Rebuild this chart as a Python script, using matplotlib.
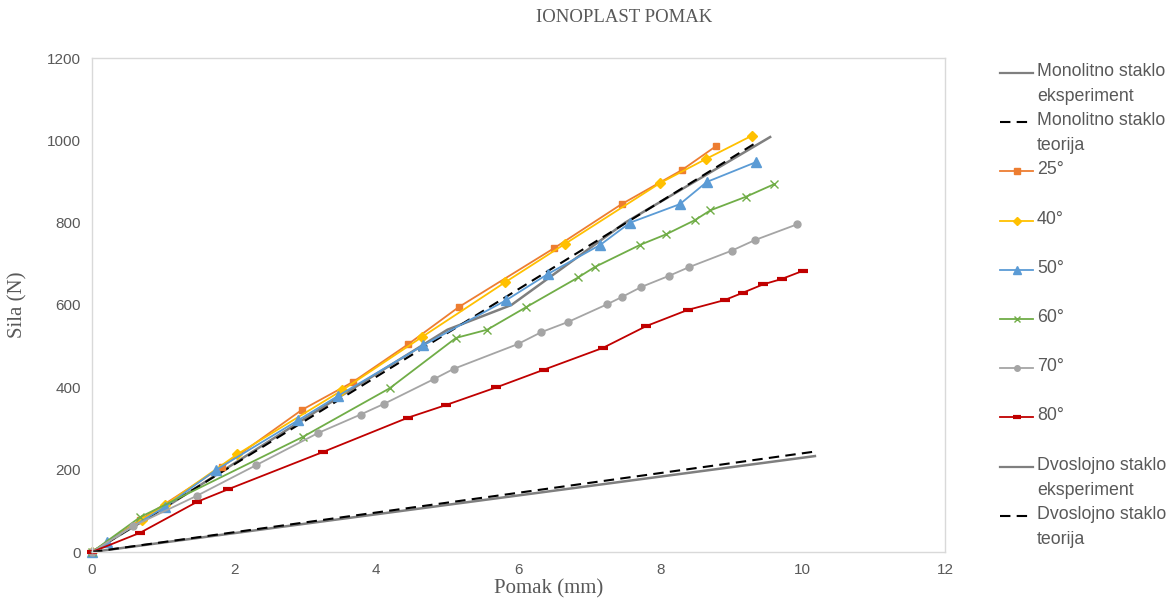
import matplotlib
matplotlib.use('Agg')
import matplotlib.pyplot as plt
from matplotlib.lines import Line2D

# podaci ocitani s grafa
mono_eks_x = [0, 1.0, 3.0, 5.0, 5.9, 7.5, 9.54]
mono_eks_y = [0, 105, 325, 540, 600, 800, 1008]
mono_teo_x = [0, 9.35]
mono_teo_y = [0, 995]

x25 = [0, 0.68, 1.83, 2.95, 3.67, 4.45, 5.16, 6.5, 7.45, 8.3, 8.78]
y25 = [0, 78, 207, 345, 413, 505, 595, 738, 845, 928, 986]

x40 = [0, 0.7, 1.03, 2.04, 3.52, 4.64, 5.81, 6.65, 7.99, 8.64, 9.28]
y40 = [0, 78, 114, 237, 393, 522, 655, 748, 896, 955, 1011]

x50 = [0, 0.21, 1.03, 1.75, 2.9, 3.46, 4.66, 5.83, 6.41, 7.15, 7.57, 8.27, 8.65, 9.34]
y50 = [0, 24, 110, 200, 320, 379, 502, 612, 675, 746, 800, 845, 899, 947]

x60 = [0, 0.68, 2.97, 4.19, 5.12, 5.56, 6.1, 6.84, 7.07, 7.71, 8.08, 8.48, 8.7, 9.2, 9.59]
y60 = [0, 85, 280, 398, 520, 540, 594, 667, 692, 746, 772, 806, 830, 863, 893]

x70 = [0, 0.58, 1.48, 2.31, 3.18, 3.78, 4.11, 4.81, 5.09, 5.99, 6.32, 6.7, 7.25,
       7.45, 7.73, 8.12, 8.4, 9.0, 9.33, 9.92]
y70 = [0, 63, 137, 211, 289, 334, 360, 420, 445, 505, 534, 559, 602,
       619, 644, 671, 692, 732, 758, 796]

x80 = [0, 0.68, 1.48, 1.91, 3.25, 4.44, 4.98, 5.69, 6.36, 7.19, 7.8, 8.38, 8.9,
       9.16, 9.44, 9.7, 10.0]
y80 = [0, 47, 122, 152, 243, 326, 357, 400, 443, 496, 549, 588, 612,
       630, 650, 663, 683]

dvo_eks_x = [0, 10.17]
dvo_eks_y = [0, 233]
dvo_teo_x = [0, 10.13]
dvo_teo_y = [0, 243]

W, H = 1174, 605
fig = plt.figure(figsize=(W / 100, H / 100), dpi=100)
ax = fig.add_axes([92 / W, (H - 552) / H, (945 - 92) / W, (552 - 58) / H])

siva_txt = '#595959'
serif = 'Liberation Serif'
sans = 'Liberation Sans'

serije = [
    ('Monolitno staklo\neksperiment', mono_eks_x, mono_eks_y,
     dict(color='#7F7F7F', lw=1.8, ls='-')),
    ('Monolitno staklo\nteorija', mono_teo_x, mono_teo_y,
     dict(color='black', lw=1.5, ls=(0, (5, 3)))),
    ('25°', x25, y25, dict(color='#ED7D31', lw=1.3, marker='s', ms=5)),
    ('40°', x40, y40, dict(color='#FFC000', lw=1.3, marker='D', ms=5)),
    ('50°', x50, y50, dict(color='#5B9BD5', lw=1.3, marker='^', ms=7)),
    ('60°', x60, y60, dict(color='#70AD47', lw=1.3, marker='x', ms=6, mew=1.0)),
    ('70°', x70, y70, dict(color='#A5A5A5', lw=1.3, marker='o', ms=5)),
    ('80°', x80, y80, dict(color='#C00000', lw=1.3, marker='_', ms=7, mew=3)),
    ('Dvoslojno staklo\neksperiment', dvo_eks_x, dvo_eks_y,
     dict(color='#7F7F7F', lw=1.8, ls='-')),
    ('Dvoslojno staklo\nteorija', dvo_teo_x, dvo_teo_y,
     dict(color='black', lw=1.5, ls=(0, (5, 3)))),
]

for lab, xs, ys, st in serije:
    ax.plot(xs, ys, clip_on=False, **st)

ax.set_xlim(0, 12)
ax.set_ylim(0, 1200)
ax.set_xticks(range(0, 13, 2))
ax.set_yticks(range(0, 1201, 200))
ax.tick_params(length=0, labelsize=11, colors=siva_txt, pad=8)
for t in ax.get_xticklabels() + ax.get_yticklabels():
    t.set_fontfamily(sans)
for sp in ax.spines.values():
    sp.set_color('#D9D9D9')
    sp.set_linewidth(1.0)

ax.set_xlabel('Pomak (mm)', fontsize=15, family=serif, color=siva_txt)
ax.xaxis.set_label_coords((549 - 92) / (945 - 92), -0.055)
ax.set_ylabel('Sila (N)', fontsize=15, family=serif, color=siva_txt, labelpad=14)
fig.text(624 / W, 1 - 18 / H, 'IONOPLAST POMAK', ha='center', va='center',
         fontsize=13.5, family=serif, color=siva_txt)

# legenda rucno, kao u Excelu
for i, (lab, xs, ys, st) in enumerate(serije):
    yp = 1 - (73 + i * 49.2) / H
    st2 = dict(st)
    st2['lw'] = min(st2.get('lw', 1.3), 1.6)
    h = Line2D([1000 / W, 1033 / W], [yp, yp], transform=fig.transFigure,
               markevery=[], **st2)
    fig.add_artist(h)
    if 'marker' in st:
        mk = dict(st)
        mk.pop('lw')
        mk['ms'] = mk['ms'] * 0.8
        m = Line2D([1016.5 / W], [yp], transform=fig.transFigure, lw=0, **mk)
        fig.add_artist(m)
    fig.text(1037 / W, yp + 10 / H, lab, ha='left', va='top', fontsize=12.8,
             family=sans, color=siva_txt, linespacing=1.62)

fig.savefig('out.png', dpi=100)
